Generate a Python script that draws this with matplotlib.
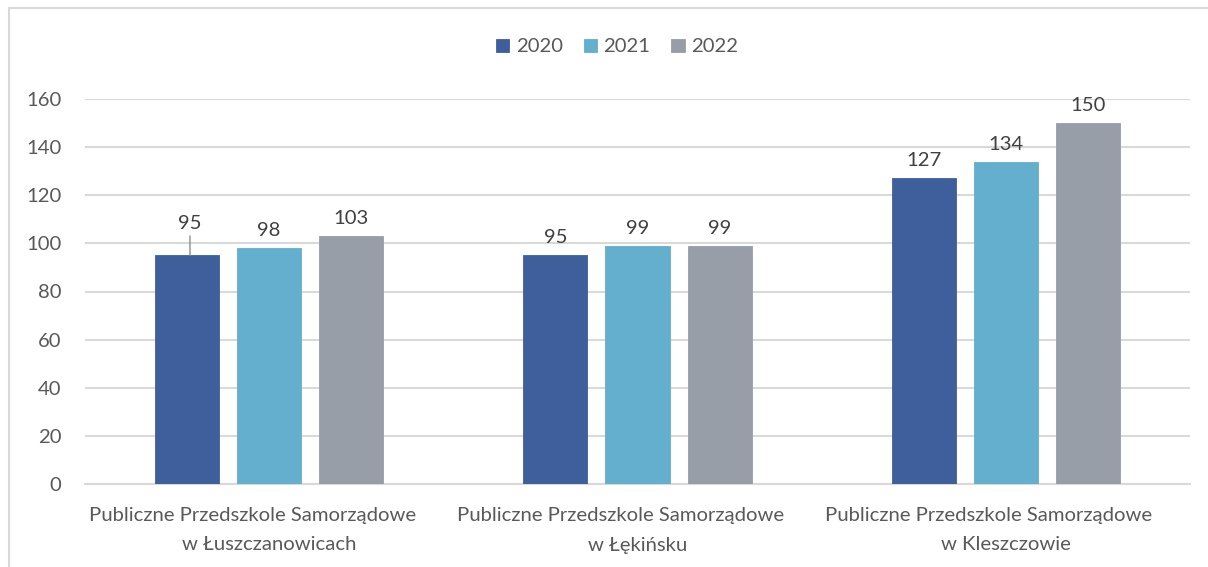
import matplotlib
matplotlib.use("Agg")
import matplotlib.pyplot as plt
from matplotlib.patches import Rectangle
from matplotlib.transforms import offset_copy
import numpy as np

cat_line1 = ["Publiczne Przedszkole Samorządowe",
             "Publiczne Przedszkole Samorządowe",
             "Publiczne Przedszkole Samorządowe"]
cat_line2 = ["w Łuszczanowicach", "w Łękińsku", "w Kleszczowie"]
series_names = ["2020", "2021", "2022"]
values_2020 = [95, 95, 127]
values_2021 = [98, 99, 134]
values_2022 = [103, 99, 150]
y_ticks = [0, 20, 40, 60, 80, 100, 120, 140, 160]

colors = ["#3F5F9C", "#63AFCD", "#979EA8"]
text_color = "#595959"
label_color = "#404040"
font = "Lato"
fs = 14.6

W, H = 1208, 567
fig = plt.figure(figsize=(W / 100, H / 100), dpi=100)
ax = fig.add_axes([85 / W, 1 - 484 / H, (1190 - 85) / W, (484 - 99) / H])

x = np.arange(len(cat_line1))
bw = 0.174
off = 0.223
all_vals = [values_2020, values_2021, values_2022]
for i, (name, vals) in enumerate(zip(series_names, all_vals)):
    xs = x + (i - 1) * off
    ax.bar(xs, vals, width=bw, color=colors[i], label=name, zorder=3,
           edgecolor=colors[i], linewidth=0.6)
    for j, (xx, v) in enumerate(zip(xs, vals)):
        if i == 0 and j == 0:
            ax.annotate(str(v), xy=(xx + 0.008, v), xytext=(0, 17), textcoords="offset points",
                        ha="center", va="bottom", fontsize=fs, color=label_color, family=font,
                        arrowprops=dict(arrowstyle="-", color="#8C8C8C", lw=1,
                                        shrinkA=1, shrinkB=0))
        else:
            ax.annotate(str(v), xy=(xx, v), xytext=(0, 6.5), textcoords="offset points",
                        ha="center", va="bottom", fontsize=fs, color=label_color, family=font)

ax.set_xlim(-0.5, 2.5)
ax.set_ylim(0, 160)
ax.set_yticks(y_ticks)
ax.set_yticklabels([str(t) for t in y_ticks], fontsize=fs, color=text_color, family=font)
ax.set_xticks(x)
ax.set_xticklabels([])
ax.tick_params(axis="both", length=0)
ax.tick_params(axis="y", pad=17)

xform = ax.get_xaxis_transform()
for xx, l1, l2 in zip(x, cat_line1, cat_line2):
    t1 = offset_copy(xform, fig=fig, x=-17, y=-31, units="dots")
    t2 = offset_copy(xform, fig=fig, x=0, y=-61, units="dots")
    ax.text(xx, 0, l1, transform=t1, ha="center", va="center", fontsize=fs,
            color=text_color, family=font)
    ax.text(xx, 0, l2, transform=t2, ha="center", va="center", fontsize=fs,
            color=text_color, family=font)

ax.grid(axis="y", color="#D9D9D9", linewidth=1.5, zorder=0)
for s in ["top", "right", "left"]:
    ax.spines[s].set_visible(False)
ax.spines["bottom"].set_color("#D9D9D9")
ax.spines["bottom"].set_linewidth(1.5)

leg = fig.legend(loc="center", bbox_to_anchor=(617 / W, 1 - 47 / H), ncol=3, frameon=False,
                 prop={"family": font, "size": fs}, handlelength=0.65, handleheight=0.65,
                 handletextpad=0.3, columnspacing=1.05)
for t in leg.get_texts():
    t.set_color(text_color)

fig.patches.append(Rectangle((9 / W, -0.1), 1.2, 1 - 8 / H + 0.1, transform=fig.transFigure,
                             fill=False, edgecolor="#D9D9D9", linewidth=1.5))

fig.savefig("out.png", dpi=100)
